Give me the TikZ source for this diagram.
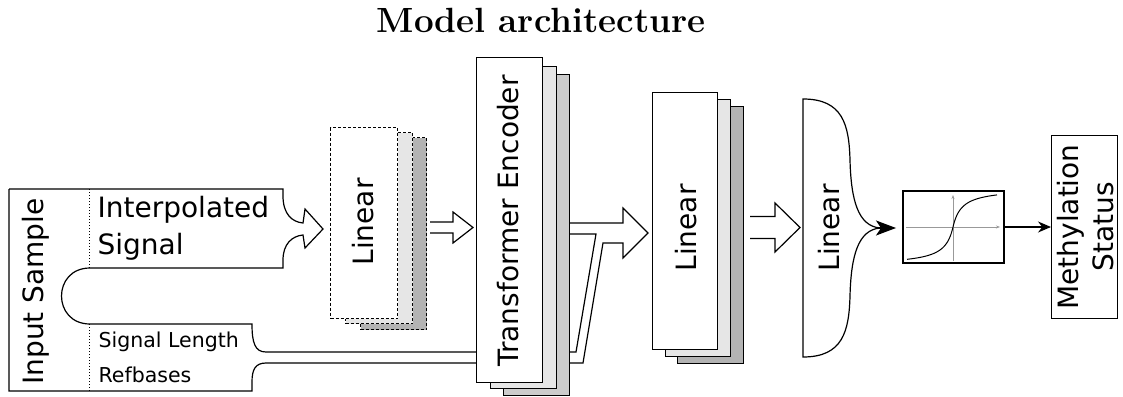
\documentclass[tikz,border=0pt]{standalone}
\usepackage{fontspec}
\newfontfamily\dv{DejaVu Sans}
\usetikzlibrary{arrows.meta}
\definecolor{layermid}{HTML}{E6E6E6}
\definecolor{layerdark}{HTML}{B3B3B3}
\definecolor{layertf}{HTML}{CCCCCC}
\definecolor{axisgray}{HTML}{999999}
\begin{document}
\begin{tikzpicture}[x=1pt,y=-1pt,line width=1.2pt,
  lbl/.style={font=\dv\fontsize{28}{34}\selectfont, inner sep=0pt},
  smalllbl/.style={font=\dv\fontsize{20.5}{24}\selectfont, inner sep=0pt},
  vlbl/.style={lbl, rotate=90, anchor=base},
  layer/.style={draw, inner sep=0pt, anchor=north west, fill=white},
  dashlayer/.style={layer, dash pattern=on 3pt off 2pt},
  dotline/.style={line width=1pt, dash pattern=on 1.2pt off 1.8pt}]
\useasboundingbox (0,0) rectangle (1123,396);

% title
\node[font=\fontsize{35}{42}\selectfont\bfseries, inner sep=0pt, anchor=base] (title) at (541,33) {Model architecture};

% input sample outline with the signal-length / refbases channels
\draw (9,189) -- (283,189) -- (283,196)
  .. controls (283,214) and (292,222) .. (303,223) -- (305,209) -- (323,229)
  -- (305,248) -- (303,235) .. controls (292,236) and (283,244) .. (283,260)
  -- (283,268) -- (90,268) .. controls (52,268) and (52,324) .. (90,324)
  -- (252,324) .. controls (252,343) and (255,352) .. (266,352)
  -- (576,352) -- (596,234) -- (569,234);
\draw (569,223) -- (623,223) -- (623,208) -- (648,233) -- (623,258)
  -- (623,243) -- (603,243) -- (583,363) -- (266,363)
  .. controls (255,363) and (252,370) .. (252,382) -- (252,391)
  -- (9,391) -- (9,189);
\draw[dotline] (89,189) -- (89,268);
\draw[dotline] (89,324) -- (89,391);

\node[vlbl] (inp) at (43,291.5) {Input Sample};
\node[lbl, anchor=base west] (interp) at (97,217) {Interpolated};
\node[lbl, anchor=base west] (sigtxt) at (97,254) {Signal};
\node[smalllbl, anchor=base west] (slen) at (98,347) {Signal Length};
\node[smalllbl, anchor=base west] (refb) at (98,382) {Refbases};

% first linear stack (dashed)
\node[dashlayer, fill=layerdark, minimum width=66pt, minimum height=192pt] (ld3) at (360,137) {};
\node[dashlayer, fill=layermid, minimum width=67pt, minimum height=191pt] (ld2) at (345,132) {};
\node[dashlayer, minimum width=67pt, minimum height=191pt] (ld1) at (330,127) {};
\node[vlbl] at (373,222) {Linear};

% arrow into the transformer
\coordinate (a1) at (430,227.5);
\draw (a1) ++(0,-5.5) -- ++(23,0) -- ++(0,-10) -- ++(20,15.5) -- ++(-20,15.5) -- ++(0,-10) -- ++(-23,0);

% transformer encoder stack
\node[layer, fill=layertf, minimum width=66pt, minimum height=321pt] (tf3) at (503,74) {};
\node[layer, fill=layermid, minimum width=66pt, minimum height=322pt] (tf2) at (490,66) {};
\node[layer, minimum width=66pt, minimum height=325pt] (tf1) at (476,57) {};
\node[vlbl] at (518,221) {Transformer Encoder};

% second linear stack
\node[layer, fill=layerdark, minimum width=66pt, minimum height=257pt] (l3) at (677,106) {};
\node[layer, fill=layermid, minimum width=65pt, minimum height=257pt] (l2) at (665,99) {};
\node[layer, minimum width=65pt, minimum height=257pt] (l1) at (652,92) {};
\node[vlbl] at (696,228) {Linear};

% arrow into the output layer
\coordinate (a3) at (750,227.5);
\draw (a3) ++(0,-11) -- ++(25,0) -- ++(0,-13.5) -- ++(25,24.5) -- ++(-25,24.5) -- ++(0,-13.5) -- ++(-25,0);

% output linear layer, closing in a brace
\draw (803,99) .. controls (843,99) and (849,125) .. (850,160)
  .. controls (851,200) and (858,226) .. (880,228)
  .. controls (858,230) and (851,256) .. (850,296)
  .. controls (849,331) and (843,357) .. (803,357) -- cycle;
\node[vlbl] at (839,228) {Linear};
\coordinate (bt) at (876,228);
\coordinate (btip) at (896,228);
\draw[-{Stealth[length=20pt,width=15pt,inset=5pt]}] (bt) -- (btip);

% sigmoid
\node[draw, inner sep=0pt, minimum width=101pt, minimum height=72pt] (sig) at (953.5,227) {};
\draw[axisgray, line width=0.8pt, -{Stealth[length=4pt,width=3pt]}] (906,227) -- (1000,227);
\draw[axisgray, line width=0.8pt, -{Stealth[length=4pt,width=3pt]}] (953,261) -- (953,195);
\draw[line width=1pt] plot[domain=-46:44, samples=90, smooth] ({953+\x},{227-38.5*\x/(8.8+abs(\x))});

% output
\node[layer, minimum width=66pt, minimum height=183pt] (meth) at (1051,135) {};
\node[vlbl] at (1078,227) {Methylation};
\node[vlbl] at (1113,227) {Status};
\draw[-{Stealth[length=13pt,width=11pt]}] (sig.east) -- (sig.east -| meth.west);
\end{tikzpicture}
\end{document}
